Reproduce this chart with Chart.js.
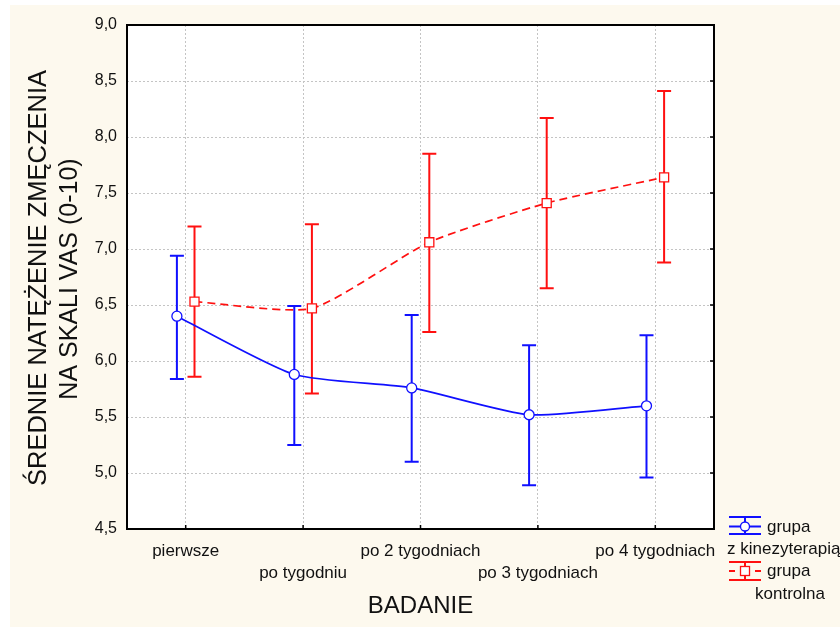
<!DOCTYPE html>
<html><head><meta charset="utf-8">
<script src="https://cdn.jsdelivr.net/npm/chart.js@4/dist/chart.umd.min.js"></script>
<style>html,body{margin:0;padding:0;background:#fff}#wrap{width:840px;height:628px}</style>
</head><body><div id="wrap"><canvas id="c" width="840" height="628"></canvas></div>
<script>
const categories = ['pierwsze', 'po tygodniu', 'po 2 tygodniach', 'po 3 tygodniach', 'po 4 tygodniach'];
const seriesNames = ['grupa z kinezyterapią', 'grupa kontrolna'];
const blueMean  = [6.40, 5.88, 5.76, 5.52, 5.60];
const blueUpper = [6.94, 6.49, 6.41, 6.14, 6.23];
const blueLower = [5.84, 5.25, 5.10, 4.89, 4.96];
const redMean   = [6.53, 6.47, 7.06, 7.41, 7.64];
const redUpper  = [7.20, 7.22, 7.85, 8.17, 8.41];
const redLower  = [5.86, 5.71, 6.26, 6.65, 6.88];
const yTicks = [4.5, 5.0, 5.5, 6.0, 6.5, 7.0, 7.5, 8.0, 8.5, 9.0];
const yTitle = ['ŚREDNIE NATĘŻENIE ZMĘCZENIA', 'NA SKALI VAS (0-10)'];
const xTitle = 'BADANIE';

const BLUE = '#1010ff', RED = '#ff1010';
const FONT = '"Liberation Sans", Arial, sans-serif';
const OFF = 0.075;

const bgPlugin = {
  id: 'bg',
  beforeDraw(chart) {
    const {ctx, chartArea: a} = chart;
    ctx.save();
    ctx.fillStyle = '#ffffff'; ctx.fillRect(0, 0, chart.width, chart.height);
    ctx.fillStyle = '#fdf9ee'; ctx.fillRect(10, 5, chart.width - 10, chart.height - 6);
    ctx.fillStyle = '#ffffff'; ctx.fillRect(a.left, a.top, a.right - a.left, a.bottom - a.top);
    ctx.restore();
  }
};

function drawBars(chart, means, up, lo, off, color) {
  const {ctx, scales: {x, y}} = chart;
  ctx.save();
  ctx.strokeStyle = color; ctx.lineWidth = 2;
  for (let i = 0; i < means.length; i++) {
    const px = x.getPixelForValue(i + off);
    const t = y.getPixelForValue(up[i]), b = y.getPixelForValue(lo[i]);
    ctx.beginPath();
    ctx.moveTo(px, t); ctx.lineTo(px, b);
    ctx.moveTo(px - 7, t); ctx.lineTo(px + 7, t);
    ctx.moveTo(px - 7, b); ctx.lineTo(px + 7, b);
    ctx.stroke();
  }
  ctx.restore();
}

const errPlugin = {
  id: 'err',
  beforeDatasetsDraw(chart) {
    drawBars(chart, blueMean, blueUpper, blueLower, -OFF, BLUE);
    drawBars(chart, redMean, redUpper, redLower, OFF, RED);
  }
};

const framePlugin = {
  id: 'frame',
  afterDraw(chart) {
    const {ctx, chartArea: a, scales: {x, y}} = chart;
    ctx.save();
    ctx.strokeStyle = '#000'; ctx.lineWidth = 2;
    ctx.strokeRect(a.left, a.top, a.right - a.left, a.bottom - a.top);
    ctx.lineWidth = 1.5;
    ctx.beginPath();
    yTicks.forEach(v => { const py = y.getPixelForValue(v); ctx.moveTo(a.right - 4, py); ctx.lineTo(a.right, py); });
    categories.forEach((c, i) => { const px = x.getPixelForValue(i); ctx.moveTo(px, a.bottom); ctx.lineTo(px, a.bottom - 4); });
    ctx.stroke();

    // axis titles
    ctx.fillStyle = '#111';
    ctx.textAlign = 'center'; ctx.textBaseline = 'middle';
    ctx.font = '24px ' + FONT;
    ctx.fillText(xTitle, (a.left + a.right) / 2, 606);
    ctx.save();
    ctx.translate(39, 278); ctx.rotate(-Math.PI / 2);
    ctx.font = '25.5px ' + FONT;
    ctx.fillText(yTitle[0], 0, 0);
    ctx.restore();
    ctx.save();
    ctx.translate(70, 279); ctx.rotate(-Math.PI / 2);
    ctx.font = '25px ' + FONT;
    ctx.fillText(yTitle[1], 0, 0);
    ctx.restore();

    // legend
    const lx = 745;
    ctx.lineWidth = 2;
    ctx.strokeStyle = BLUE;
    ctx.beginPath();
    ctx.moveTo(729, 517); ctx.lineTo(761, 517);
    ctx.moveTo(729, 534); ctx.lineTo(761, 534);
    ctx.moveTo(lx, 517); ctx.lineTo(lx, 534);
    ctx.moveTo(729, 526.5); ctx.lineTo(761, 526.5);
    ctx.stroke();
    ctx.lineWidth = 1.3;
    ctx.beginPath(); ctx.arc(lx, 526.5, 4.5, 0, Math.PI * 2);
    ctx.fillStyle = '#fff'; ctx.fill(); ctx.stroke();
    ctx.lineWidth = 2;
    ctx.strokeStyle = RED;
    ctx.beginPath();
    ctx.moveTo(729, 562); ctx.lineTo(761, 562);
    ctx.moveTo(729, 580); ctx.lineTo(761, 580);
    ctx.moveTo(lx, 562); ctx.lineTo(lx, 580);
    ctx.moveTo(729, 571); ctx.lineTo(735, 571);
    ctx.moveTo(755, 571); ctx.lineTo(761, 571);
    ctx.stroke();
    ctx.lineWidth = 1.3;
    ctx.fillStyle = '#fff';
    ctx.fillRect(lx - 4.5, 566.5, 9, 9);
    ctx.strokeRect(lx - 4.5, 566.5, 9, 9);

    ctx.fillStyle = '#111';
    ctx.font = '17px ' + FONT;
    ctx.textAlign = 'left';
    ctx.fillText('grupa', 767, 527);
    ctx.fillText('z kinezyterapią', 727, 549);
    ctx.fillText('grupa', 767, 571);
    ctx.fillText('kontrolna', 755, 594);
    ctx.restore();
  }
};

const ds = (means, off, color, style, dash, r) => ({
  data: means.map((v, i) => ({x: i + off, y: v})),
  borderColor: color,
  borderWidth: 1.7,
  borderDash: dash,
  tension: 0.2,
  pointStyle: style,
  pointRadius: r,
  pointHoverRadius: r,
  pointBackgroundColor: '#ffffff',
  pointBorderColor: color,
  pointBorderWidth: 1.3,
  fill: false
});

new Chart(document.getElementById('c'), {
  type: 'line',
  data: {
    datasets: [
      Object.assign(ds(blueMean, -OFF, BLUE, 'circle', [], 5), {label: seriesNames[0]}),
      Object.assign(ds(redMean, OFF, RED, 'rect', [8, 5], 6.4), {label: seriesNames[1]})
    ]
  },
  options: {
    responsive: false,
    animation: false,
    events: [],
    layout: {padding: {left: 0, right: 126, top: 25, bottom: 0}},
    plugins: {legend: {display: false}, tooltip: {enabled: false}},
    scales: {
      x: {
        type: 'linear', min: -0.5, max: 4.5,
        afterBuildTicks: ax => { ax.ticks = categories.map((c, i) => ({value: i})); },
        afterFit: ax => { ax.height = 99; },
        grid: {color: '#c4c4c4', lineWidth: 1, drawTicks: false},
        border: {display: false, dash: [2, 2]},
        ticks: {
          autoSkip: false, maxRotation: 0, padding: 11,
          color: '#111', font: {family: FONT, size: 17, lineHeight: 1.3},
          callback: (v, i) => (i % 2 === 1 ? ['', categories[i]] : categories[i])
        }
      },
      y: {
        type: 'linear', min: 4.5, max: 9.0,
        afterBuildTicks: ax => { ax.ticks = yTicks.map(v => ({value: v})); },
        afterFit: ax => { ax.width = 127; },
        grid: {color: '#c4c4c4', lineWidth: 1, drawTicks: false},
        border: {display: false, dash: [2, 2]},
        ticks: {
          padding: 10, color: '#111', font: {family: FONT, size: 16},
          callback: v => v.toFixed(1).replace('.', ',')
        }
      }
    }
  },
  plugins: [bgPlugin, errPlugin, framePlugin]
});
</script></body></html>
